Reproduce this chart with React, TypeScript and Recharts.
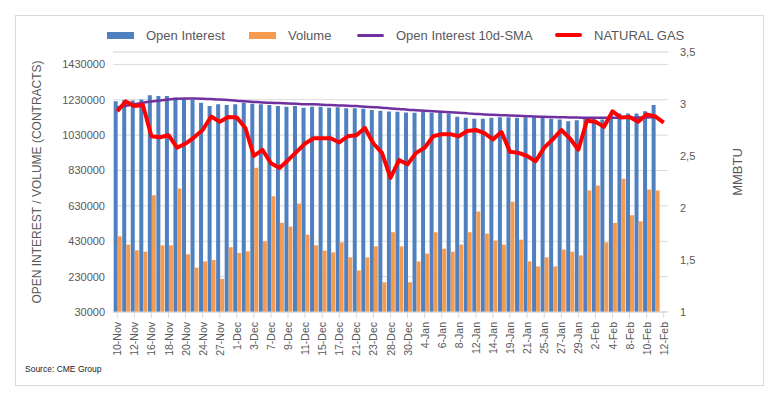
import React from 'react';
import { ComposedChart, Bar, Line, XAxis, YAxis, CartesianGrid } from 'recharts';

const dates = [
  '10-Nov', '11-Nov', '12-Nov', '13-Nov', '16-Nov', '17-Nov', '18-Nov', '19-Nov', '20-Nov', '23-Nov',
  '24-Nov', '25-Nov', '27-Nov', '30-Nov', '1-Dec', '2-Dec', '3-Dec', '4-Dec', '7-Dec', '8-Dec',
  '9-Dec', '10-Dec', '11-Dec', '14-Dec', '15-Dec', '16-Dec', '17-Dec', '18-Dec', '21-Dec', '22-Dec',
  '23-Dec', '24-Dec', '28-Dec', '29-Dec', '30-Dec', '31-Dec', '4-Jan', '5-Jan', '6-Jan', '7-Jan',
  '8-Jan', '11-Jan', '12-Jan', '13-Jan', '14-Jan', '15-Jan', '19-Jan', '20-Jan', '21-Jan', '22-Jan',
  '25-Jan', '26-Jan', '27-Jan', '28-Jan', '29-Jan', '1-Feb', '2-Feb', '3-Feb', '4-Feb', '5-Feb',
  '8-Feb', '9-Feb', '10-Feb', '11-Feb', '12-Feb',
];

const openInterest = [
  1222000, 1228000, 1226000, 1232000, 1256000, 1251000, 1251000, 1243000, 1236000, 1228000,
  1213000, 1194000, 1204000, 1200000, 1204000, 1213000, 1207000, 1204000, 1200000, 1194000,
  1190000, 1194000, 1185000, 1190000, 1190000, 1185000, 1188000, 1182000, 1182000, 1179000,
  1172000, 1168000, 1164000, 1162000, 1158000, 1157000, 1162000, 1157000, 1160000, 1152000,
  1134000, 1128000, 1122000, 1122000, 1128000, 1131000, 1131000, 1128000, 1131000, 1131000,
  1128000, 1122000, 1119000, 1109000, 1114000, 1128000, 1122000, 1119000, 1150000, 1152000,
  1152000, 1152000, 1165000, 1200000, null,
];

const volume = [
  458000, 411000, 379000, 371000, 690000, 407000, 407000, 728000, 356000, 281000,
  316000, 324000, 217000, 396000, 364000, 373000, 845000, 430000, 684000, 534000,
  513000, 643000, 467000, 407000, 377000, 367000, 424000, 339000, 265000, 339000,
  401000, 198000, 481000, 401000, 198000, 316000, 360000, 481000, 388000, 371000,
  411000, 481000, 598000, 473000, 434000, 411000, 654000, 439000, 316000, 288000,
  339000, 288000, 383000, 371000, 350000, 717000, 745000, 424000, 534000, 783000,
  577000, 543000, 722000, 717000, null,
];

const oiSma = [
  1186000, 1196000, 1205000, 1213000, 1220000, 1226000, 1231000, 1235000, 1237000, 1237000,
  1236000, 1234000, 1231000, 1228000, 1225000, 1221000, 1218000, 1215000, 1213000, 1211000,
  1209000, 1207000, 1205000, 1204000, 1202000, 1200000, 1198000, 1196000, 1194000, 1191000,
  1188000, 1185000, 1181000, 1178000, 1174000, 1171000, 1168000, 1165000, 1162000, 1159000,
  1156000, 1153000, 1150000, 1147000, 1145000, 1143000, 1141000, 1139000, 1137000, 1135000,
  1134000, 1132000, 1131000, 1130000, 1129000, 1128000, 1128000, 1128000, 1128000, 1128000,
  1128000, 1129000, 1130000, 1131000, null,
];

const naturalGas = [
  2.93, 3.025, 2.98, 2.99, 2.69, 2.68, 2.7, 2.58, 2.62, 2.68,
  2.75, 2.88, 2.83, 2.875, 2.87, 2.77, 2.5, 2.56, 2.43, 2.385,
  2.46, 2.54, 2.62, 2.67, 2.67, 2.67, 2.63, 2.69, 2.7, 2.77,
  2.62, 2.53, 2.29, 2.46, 2.42, 2.53, 2.58, 2.69, 2.71, 2.71,
  2.69, 2.74, 2.75, 2.72, 2.66, 2.73, 2.54, 2.53, 2.5, 2.45,
  2.58, 2.66, 2.75, 2.67, 2.56, 2.84, 2.83, 2.78, 2.93, 2.87,
  2.875, 2.83, 2.9, 2.88, 2.82,
];

const leftTicks = [30000, 230000, 430000, 630000, 830000, 1030000, 1230000, 1430000];
const rightTicks = [1, 1.5, 2, 2.5, 3, 3.5];
const minorTicks = Array.from({ length: 37 }, (_, i) => 30000 + i * 40000);

const BLUE = '#4f80c0';
const ORANGE = '#f59b50';
const PURPLE = '#7030a0';
const RED = '#ff0000';
const TEXT = '#595959';
const FONT = "'Liberation Sans', Arial, sans-serif";

const data = dates.map((d, i) => ({
  date: d,
  oi: openInterest[i],
  vol: volume[i],
  sma: oiSma[i],
  gas: naturalGas[i],
}));

function DateTick(props: any) {
  const { x, y, payload } = props;
  const ty = y + 2;
  return (
    <text
      x={x}
      y={ty}
      transform={`rotate(-90 ${x} ${ty})`}
      textAnchor="end"
      dominantBaseline="central"
      fontSize={10.5}
      fontFamily={FONT}
      fill={TEXT}
    >
      {payload.value}
    </text>
  );
}

function LegendItem({ left, color, kind, label }: { left: number; color: string; kind: 'box' | 'line'; label: string }) {
  const h = kind === 'box' ? 7 : color === RED ? 4 : 3;
  return (
    <div style={{ position: 'absolute', left, top: 27, height: 16, display: 'flex', alignItems: 'center', whiteSpace: 'nowrap' }}>
      <div style={{ width: 27, height: h, background: color, borderRadius: kind === 'line' ? 2 : 0 }} />
      <span style={{ marginLeft: 12, fontSize: 13, color: TEXT }}>{label}</span>
    </div>
  );
}

export default function App() {
  return (
    <div style={{ position: 'absolute', left: 0, top: 0, width: 781, height: 397, background: '#fff', fontFamily: FONT }}>
      <div style={{ position: 'absolute', left: 15, top: 15, width: 747, height: 369, border: '1px solid #d9d9d9' }} />
      <ComposedChart
        width={781}
        height={397}
        data={data}
        margin={{ top: 52, right: 63, bottom: 35, left: 53 }}
        barCategoryGap="8%"
        barGap={0}
      >
        <CartesianGrid yAxisId="minor" vertical={false} stroke="#f0f0f0" />
        <CartesianGrid yAxisId="left" vertical={false} stroke="#d9d9d9" />
        <XAxis
          dataKey="date"
          interval={1}
          height={50}
          tick={<DateTick />}
          tickLine={{ stroke: '#d9d9d9' }}
          axisLine={{ stroke: '#d9d9d9' }}
        />
        <YAxis
          yAxisId="minor"
          hide
          domain={[30000, 1500000]}
          ticks={minorTicks}
        />
        <YAxis
          yAxisId="left"
          width={60}
          domain={[30000, 1500000]}
          ticks={leftTicks}
          axisLine={false}
          tickLine={false}
          tick={{ fontSize: 11, fill: TEXT, fontFamily: FONT }}
        />
        <YAxis
          yAxisId="right"
          orientation="right"
          width={50}
          domain={[1, 3.5]}
          ticks={rightTicks}
          axisLine={false}
          tickLine={false}
          tickMargin={6}
          tickFormatter={(v: number) => String(v).replace('.', ',')}
          tick={{ fontSize: 11, fill: TEXT, fontFamily: FONT, textAnchor: 'start' }}
        />
        <Bar yAxisId="left" dataKey="oi" fill={BLUE} isAnimationActive={false} />
        <Bar yAxisId="left" dataKey="vol" fill={ORANGE} isAnimationActive={false} />
        <Line
          yAxisId="left"
          dataKey="sma"
          type="monotone"
          stroke={PURPLE}
          strokeWidth={2.5}
          dot={false}
          isAnimationActive={false}
        />
        <Line
          yAxisId="right"
          dataKey="gas"
          type="linear"
          stroke={RED}
          strokeWidth={4}
          strokeLinejoin="round"
          dot={false}
          isAnimationActive={false}
        />
      </ComposedChart>

      <LegendItem left={107} color={BLUE} kind="box" label="Open Interest" />
      <LegendItem left={249} color={ORANGE} kind="box" label="Volume" />
      <LegendItem left={357} color={PURPLE} kind="line" label="Open Interest 10d-SMA" />
      <LegendItem left={555} color={RED} kind="line" label="NATURAL GAS" />

      <div
        style={{
          position: 'absolute', left: 37, top: 182, transform: 'translate(-50%, -50%) rotate(-90deg)',
          whiteSpace: 'nowrap', fontSize: 12, color: TEXT,
        }}
      >
        OPEN INTEREST / VOLUME (CONTRACTS)
      </div>
      <div
        style={{
          position: 'absolute', left: 737, top: 172, transform: 'translate(-50%, -50%) rotate(-90deg)',
          whiteSpace: 'nowrap', fontSize: 13, color: TEXT,
        }}
      >
        MMBTU
      </div>
      <div style={{ position: 'absolute', left: 25, top: 364, fontSize: 8.5, color: '#222', whiteSpace: 'nowrap' }}>
        Source: CME Group
      </div>
    </div>
  );
}
